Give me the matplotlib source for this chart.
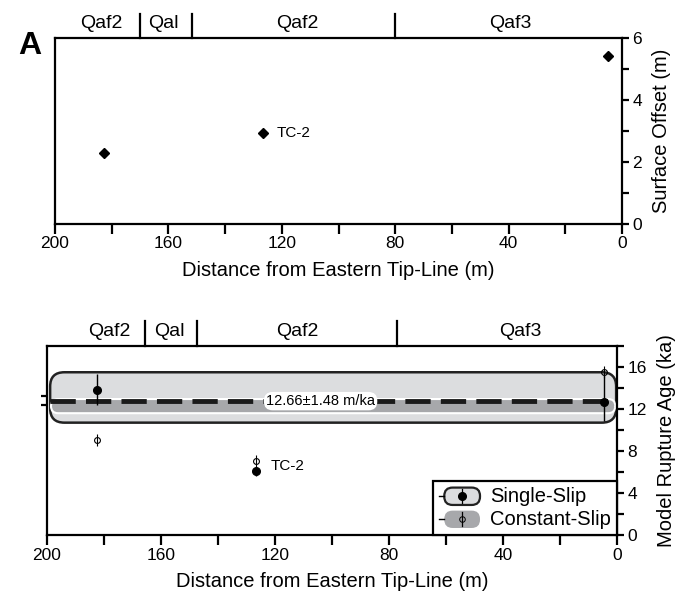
import matplotlib
matplotlib.use("Agg")
import matplotlib.pyplot as plt
from matplotlib.patches import FancyBboxPatch
from matplotlib.lines import Line2D
from matplotlib.ticker import MultipleLocator

plt.rcParams['font.family'] = ['Liberation Sans', 'DejaVu Sans']

# ---------------- data ----------------
top_dist = [182.6, 126.5, 4.8]
top_offset = [2.28, 2.93, 5.42]

single_dist = [182.6, 126.5, 4.6]
single_age = [13.85, 6.05, 12.64]
single_err_lo = [1.5, 0.4, 1.75]
single_err_hi = [1.5, 0.4, 2.7]

const_dist = [182.6, 126.5, 4.6]
const_age = [9.05, 7.05, 15.5]

unit_labels = ['Qaf2', 'Qal', 'Qaf2', 'Qaf3']
top_bounds = [170, 151.8, 80]
top_label_x = [183.7, 161.8, 114.6, 39.5]
bot_bounds = [165.7, 147.5, 77.1]
bot_label_x = [178.1, 157.2, 112.3, 33.8]

single_band = (10.7, 15.5)
const_band = (11.6, 12.95)
rate_line = 12.75
rate_label = '12.66\u00b11.48 m/ka'
left_marks = [12.38, 13.27]

LIGHT = '#dcdddf'
DARK = '#a7a8ab'

fig = plt.figure(figsize=(6.83, 5.96), dpi=100)
ax1 = fig.add_axes([55/683, 1-224/596, 567/683, 186/596])
ax2 = fig.add_axes([47/683, 1-535/596, 570/683, 189/596])


def style_axis(ax, ymax, ymaj, ymin):
    ax.set_xlim(200, 0)
    ax.set_ylim(0, ymax)
    for s in ax.spines.values():
        s.set_linewidth(1.6)
    ax.yaxis.tick_right()
    ax.yaxis.set_label_position('right')
    ax.xaxis.set_major_locator(MultipleLocator(40))
    ax.xaxis.set_minor_locator(MultipleLocator(20))
    ax.yaxis.set_major_locator(MultipleLocator(ymaj))
    ax.yaxis.set_minor_locator(MultipleLocator(ymin))
    ax.tick_params(axis='x', which='both', direction='out', length=7, width=1.6,
                   labelsize=12.5, pad=2)
    ax.tick_params(axis='y', which='both', direction='out', length=5, width=1.6,
                   labelsize=12.5, pad=2.5)
    ax.set_xlabel('Distance from Eastern Tip-Line (m)', fontsize=14.5, labelpad=7)


def units(ax, bounds, label_x):
    tr = ax.get_xaxis_transform()
    for b in bounds:
        ax.plot([b, b], [1.0, 1.13], color='black', lw=1.6, transform=tr,
                clip_on=False)
    for lab, x in zip(unit_labels, label_x):
        ax.text(x, 1.03, lab, transform=tr, ha='center', va='bottom',
                fontsize=14)


# ---------------- top panel ----------------
style_axis(ax1, 6, 2, 1)
ax1.set_ylabel('Surface Offset (m)', fontsize=14.5, labelpad=7)
ax1.plot(top_dist, top_offset, 'D', color='black', ms=5.5, ls='none')
ax1.text(top_dist[1] - 4.5, top_offset[1], 'TC-2', fontsize=11, va='center')
units(ax1, top_bounds, top_label_x)
fig.text(29.6/683, 1-46/596, 'A', fontsize=23, fontweight='bold',
         ha='center', va='center')

# ---------------- bottom panel ----------------
style_axis(ax2, 18, 4, 2)
ax2.set_ylabel('Model Rupture Age (ka)', fontsize=14.5, labelpad=7)
units(ax2, bot_bounds, bot_label_x)

# aspect factor for round corners (y-units per x-unit in pixels)
asp = (18 / 189) / (200 / 570)

outer = FancyBboxPatch((0.3, single_band[0]), 198.6, single_band[1] - single_band[0],
                       boxstyle='round,pad=0,rounding_size=5',
                       mutation_aspect=asp, facecolor=LIGHT, edgecolor='#222222',
                       lw=1.8, zorder=1)
ax2.add_patch(outer)
inner = FancyBboxPatch((0.6, const_band[0]), 198.0, const_band[1] - const_band[0],
                       boxstyle='round,pad=0,rounding_size=2.5',
                       mutation_aspect=asp, facecolor=DARK, edgecolor='white',
                       lw=1.5, zorder=2)
ax2.add_patch(inner)
ax2.plot([199, 0.5], [rate_line, rate_line], color='#1a1a1a', lw=3.5,
         dashes=(5.2, 2.1), zorder=3)
ax2.text(104, rate_line, rate_label, fontsize=10.5, ha='center', va='center',
         zorder=4, bbox=dict(boxstyle='round,pad=0.15,rounding_size=0.6',
                             fc='white', ec='none'))

# single-slip points
ax2.errorbar(single_dist, single_age, yerr=[single_err_lo, single_err_hi],
             fmt='o', color='black', ms=5.5, elinewidth=1.0, capsize=0, zorder=5)
# constant-slip points (open ellipse with vertical stroke)
ax2.plot(const_dist, const_age, 'o', ms=4.2, mfc='none', mec='black', mew=0.8,
         ls='none', zorder=5)
ax2.plot(const_dist, const_age, '|', ms=8.5, mec='black', mew=0.8, ls='none',
         zorder=5)
ax2.text(single_dist[1] - 5, 6.6, 'TC-2', fontsize=11, va='center')

# small left-side marks
sec = ax2.secondary_yaxis('left')
sec.set_yticks(left_marks)
sec.set_yticklabels([])
sec.tick_params(length=4, width=1.6, direction='out')
sec.spines['left'].set_visible(False)


# ---------------- legend ----------------
class BandHandler:
    def __init__(self, face, edge, filled):
        self.face, self.edge, self.filled = face, edge, filled

    def legend_artist(self, legend, orig_handle, fontsize, handlebox):
        x0, y0 = -handlebox.xdescent, -handlebox.ydescent
        w, h = handlebox.width, handlebox.height
        yc = y0 + h / 2 - 1
        stub = Line2D([x0, x0 + 4], [yc, yc], color='black', lw=1.0)
        hh = 12.5
        box = FancyBboxPatch((x0 + 4, yc - hh / 2), w - 4, hh,
                             boxstyle='round,pad=0,rounding_size=6',
                             facecolor=self.face,
                             edgecolor=self.edge if self.edge else 'none',
                             lw=1.6 if self.edge else 0)
        cx = x0 + 4 + (w - 4) / 2
        vline = Line2D([cx, cx], [yc - 5, yc + 5], color='black', lw=0.9)
        if self.filled:
            mk = Line2D([cx], [yc], marker='o', ms=5.5, color='black')
        else:
            mk = Line2D([cx], [yc], marker='o', ms=4, mfc='none',
                        mec='black', mew=0.7)
        for a in (box, stub, vline, mk):
            a.set_transform(handlebox.get_transform())
            handlebox.add_artist(a)
        return box


h1 = Line2D([], [])
h2 = Line2D([], [], color='gray')
leg = ax2.legend([h1, h2], ['Single-Slip', 'Constant-Slip'], loc='lower right',
                 bbox_to_anchor=(1.0, 0.0), borderaxespad=0, fontsize=14.5,
                 handlelength=2.05, handletextpad=0.5, labelspacing=0.2,
                 borderpad=0.3, fancybox=False, framealpha=1,
                 handler_map={h1: BandHandler(LIGHT, '#222222', True),
                              h2: BandHandler(DARK, None, False)})
leg.get_frame().set_edgecolor('black')
leg.get_frame().set_linewidth(1.6)
leg.set_zorder(10)

fig.savefig('out.png', dpi=100)
